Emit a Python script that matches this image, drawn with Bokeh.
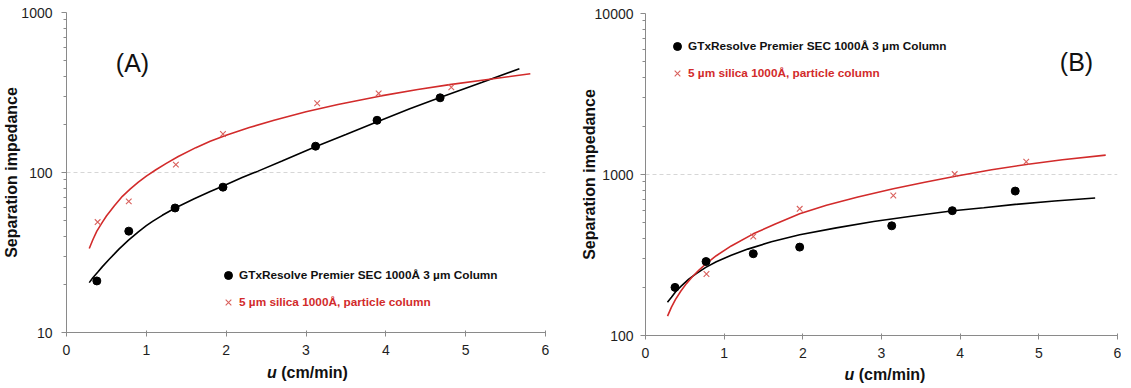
from bokeh.plotting import figure
from bokeh.layouts import row, column
from bokeh.models import (Range1d, FixedTicker, Legend, LegendItem, Label, Div)
from bokeh.embed import file_html
from bokeh.resources import INLINE

# ---------------- data ----------------
# Panel A (points)
a_gtx_u = [0.38, 0.78, 1.36, 1.96, 3.12, 3.89, 4.68]
a_gtx_y = [21, 43, 60, 81, 146, 212, 293]
a_sil_u = [0.39, 0.78, 1.37, 1.96, 3.14, 3.91, 4.82]
a_sil_y = [49, 66, 112, 174, 271, 312, 341]
# Panel A (fitted trend curves)
a_gtx_fit_u = [0.285, 0.33, 0.39, 0.45, 0.535, 0.6, 0.66, 0.777, 0.9, 1.0, 1.078, 1.2, 1.362,
               1.6, 1.8, 1.955, 2.2, 2.4, 2.7, 3.117, 3.5, 3.885, 4.3, 4.67, 5.2, 5.673]
a_gtx_fit_y = [20.5, 22.0, 23.8, 25.8, 28.7, 31.0, 33.3, 37.8, 42.6, 46.5, 49.5, 54.0, 60.0,
               68.5, 76.0, 82.0, 93.0, 102, 118, 145, 173, 207, 250, 293, 365, 445]
a_sil_fit_u = [0.285, 0.33, 0.38, 0.45, 0.5, 0.6, 0.7, 0.8, 0.9, 1.0, 1.12, 1.25, 1.4, 1.62,
               1.8, 2.0, 2.29, 2.6, 3.0, 3.4, 3.92, 4.4, 4.8, 5.3, 5.81]
a_sil_fit_y = [33.5, 38, 43, 49, 53.5, 62, 71, 79, 87, 95, 104, 114, 126, 143,
               157, 171, 191, 212, 240, 266, 300, 330, 354, 383, 414]

# Panel B (points)
b_gtx_u = [0.375, 0.77, 1.37, 1.96, 3.13, 3.9, 4.7]
b_gtx_y = [199, 288, 322, 354, 480, 596, 789]
b_sil_u = [0.775, 1.37, 1.96, 3.15, 3.93, 4.84]
b_sil_y = [241, 412, 612, 741, 1006, 1199]
# Panel B (fitted trend curves)
b_gtx_fit_u = [0.279, 0.33, 0.383, 0.45, 0.55, 0.65, 0.766, 0.9, 1.09, 1.3, 1.6, 1.96, 2.425,
               2.9, 3.4, 3.91, 4.3, 4.7, 5.2, 5.716]
b_gtx_fit_y = [161, 173, 187, 202, 224, 243, 265, 287, 315, 344, 382, 422, 466,
               510, 553, 596, 622, 652, 685, 715]
b_sil_fit_u = [0.28, 0.33, 0.38, 0.45, 0.52, 0.59, 0.68, 0.78, 0.9, 1.09, 1.37, 1.65, 1.96,
               2.3, 2.7, 3.15, 3.55, 3.94, 4.4, 4.84, 5.3, 5.85]
b_sil_fit_y = [132, 150, 167, 189, 210, 230, 255, 282, 313, 360, 428, 493, 570,
               645, 725, 815, 895, 975, 1070, 1155, 1235, 1320]

x_ticks = [0, 1, 2, 3, 4, 5, 6]
x_tick_labels = ["0", "1", "2", "3", "4", "5", "6"]
a_y_ticks = [10, 100, 1000]
a_y_tick_labels = ["10", "100", "1000"]
b_y_ticks = [100, 1000, 10000]
b_y_tick_labels = ["100", "1000", "10000"]

series_names = ["GTxResolve Premier SEC 1000Å 3 µm Column",
                "5 µm silica 1000Å, particle column"]
y_title = "Separation impedance"
x_title_var = "u"
x_title_unit = "(cm/min)"
panel_tags = ["(A)", "(B)"]

# ---------------- style ----------------
FONT = "Liberation Sans"
RED = "#d22b2b"
XRED = "#d9605c"
AXIS = "#8a8a8a"
TXT = "#1e1e1e"


def minor_list(ticks):
    out = []
    for t in ticks[:-1]:
        out += [t * k for k in range(2, 10)]
    return out


def make_panel(ticks, tick_labels, y0, y1, frame_w, frame_h, left, right, top, bottom):
    p = figure(frame_width=frame_w, frame_height=frame_h, y_axis_type="log",
               x_range=Range1d(0, 6), y_range=Range1d(y0, y1),
               output_backend="svg", toolbar_location=None,
               min_border_left=left, min_border_right=right,
               min_border_top=top, min_border_bottom=bottom)
    p.outline_line_color = None
    p.background_fill_color = "white"
    p.border_fill_color = "white"
    p.xgrid.visible = False
    p.ygrid.grid_line_color = "#d6d6d6"
    p.ygrid.grid_line_dash = "4 3"
    p.ygrid.grid_line_width = 1

    p.xaxis.ticker = FixedTicker(ticks=x_ticks)
    p.xaxis.major_label_overrides = {t: l for t, l in zip(x_ticks, x_tick_labels)}
    p.yaxis.ticker = FixedTicker(ticks=ticks, minor_ticks=minor_list(ticks))
    p.yaxis.major_label_overrides = {t: l for t, l in zip(ticks, tick_labels)}

    for ax in (p.xaxis, p.yaxis):
        ax.axis_line_color = AXIS
        ax.major_tick_line_color = AXIS
        ax.minor_tick_line_color = AXIS
        ax.major_label_text_font = FONT
        ax.major_label_text_font_size = "14px"
        ax.major_label_text_color = TXT
    p.xaxis.major_tick_in = 2
    p.xaxis.major_tick_out = 4
    p.xaxis.minor_tick_out = 0
    p.xaxis.minor_tick_in = 0
    p.xaxis.major_label_standoff = 8
    p.yaxis.major_tick_in = 0
    p.yaxis.major_tick_out = 5
    p.yaxis.minor_tick_in = 0
    p.yaxis.minor_tick_out = 3

    p.yaxis.axis_label = y_title
    p.yaxis.axis_label_text_font = FONT
    p.yaxis.axis_label_text_font_size = "16px"
    p.yaxis.axis_label_text_font_style = "bold"
    p.yaxis.axis_label_text_color = "#111111"
    return p


def add_series(p, fu1, fy1, fu2, fy2, u1, y1, u2, y2):
    p.line(fu1, fy1, line_color="black", line_width=1.6)
    p.line(fu2, fy2, line_color=RED, line_width=1.6)
    r1 = p.scatter(u1, y1, marker="circle", size=8, fill_color="black", line_color="black")
    r2 = p.scatter(u2, y2, marker="x", size=8, line_color=XRED, line_width=1.1)
    return r1, r2


def add_legends(p, r1, r2, x, y1, y2):
    for r, name, col, yy in ((r1, series_names[0], "#111111", y1),
                             (r2, series_names[1], RED, y2)):
        lg = Legend(items=[LegendItem(label=name, renderers=[r])],
                    location=(x, yy), padding=0, margin=0, spacing=0,
                    border_line_color=None, background_fill_alpha=0,
                    glyph_width=20, glyph_height=20, label_height=20,
                    label_standoff=1, label_text_font=FONT,
                    label_text_font_size="11.8px", label_text_font_style="bold",
                    label_text_color=col)
        p.add_layout(lg)


def x_title_div(width, left, shift):
    html = ('<div style="width:%dpx;text-align:center;position:relative;top:%dpx;'
            'font-family:\'Liberation Sans\',Arial,sans-serif;'
            'font-size:16px;font-weight:bold;line-height:16px;color:#111111;">'
            '<i>%s</i> %s</div>' % (width, shift, x_title_var, x_title_unit))
    return Div(text=html, width=width, height=14, margin=(0, 0, 0, left))


# ---------------- panel A ----------------
pa = make_panel(a_y_ticks, a_y_tick_labels, 10, 1000, 479, 320, 59, 32, 12, 28)
pa.yaxis.major_label_standoff = 9
pa.yaxis.axis_label_standoff = -2
ra1, ra2 = add_series(pa, a_gtx_fit_u, a_gtx_fit_y, a_sil_fit_u, a_sil_fit_y,
                      a_gtx_u, a_gtx_y, a_sil_u, a_sil_y)
add_legends(pa, ra1, ra2, 152, 47, 20)
pa.add_layout(Label(x=66, y=270, x_units="screen", y_units="screen", text=panel_tags[0],
                    text_font=FONT, text_font_size="25px", text_align="center",
                    text_baseline="middle", text_color="#111111"))

# ---------------- panel B ----------------
pb = make_panel(b_y_ticks, b_y_tick_labels, 100, 10000, 472, 322, 68, 4, 13, 28)
pb.yaxis.major_label_standoff = 7
pb.yaxis.axis_label_standoff = -6
rb1, rb2 = add_series(pb, b_gtx_fit_u, b_gtx_fit_y, b_sil_fit_u, b_sil_fit_y,
                      b_gtx_u, b_gtx_y, b_sil_u, b_sil_y)
add_legends(pb, rb1, rb2, 22, 279, 252)
pb.add_layout(Label(x=431, y=274, x_units="screen", y_units="screen", text=panel_tags[1],
                    text_font=FONT, text_font_size="25px", text_align="center",
                    text_baseline="middle", text_color="#111111"))

layout = row(column(pa, x_title_div(479, 68, 5)), column(pb, x_title_div(472, 72, 4)))
open("out.html", "w").write(file_html(layout, INLINE))
